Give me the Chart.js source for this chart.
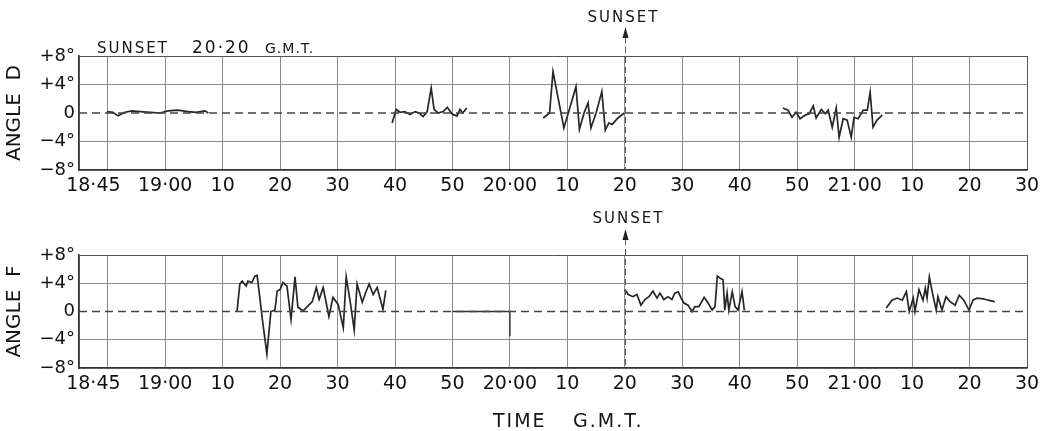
<!DOCTYPE html>
<html lang="en">
<head>
    <meta charset="UTF-8">
    <title>Angle D / Angle F</title>
    <style>
        body { margin: 0; background: #ffffff; }
        #wrap { position: relative; width: 1046px; height: 431px; }
        canvas { position: absolute; left: 0; }
    </style>
</head>
<body>
<div id="wrap">
    <canvas id="chartD" width="1046" height="200" style="top: 0"></canvas>
    <canvas id="chartF" width="1046" height="231" style="top: 200px"></canvas>
</div>

<script src="https://cdn.jsdelivr.net/npm/chart.js"></script>

<script>
    // time in minutes after 18:00 G.M.T.
    const tickTimes = [45, 47.5, 50, 60, 70, 80, 90, 100, 110, 120, 130, 140, 150, 160, 170, 180, 190, 200, 210];
    const tickLabels = ['', '18·45', '', '19·00', '10', '20', '30', '40', '50', '20·00', '10', '20', '30', '40', '50', '21·00', '10', '20', '30'];
    const angleTicks = [-8, -4, 0, 4, 8];
    const angleLabels = ['−8°', '−4°', '0', '+4°', '+8°'];
    const sunsetTime = 140;

    // ANGLE D
    const dTime1 = [49.9, 50.9, 51.8, 53, 54.2, 55.6, 57.4, 59.1, 60.5, 62.2, 64, 65.4, 66.9, 67.5];
    const dAngle1 = [0.2, 0.1, -0.4, 0.1, 0.3, 0.2, 0.1, 0, 0.3, 0.4, 0.2, 0.1, 0.3, 0];
    const dTime2 = [99.5, 100.2, 100.9, 101.7, 102.6, 103.5, 104.2, 104.9, 105.6, 106.3, 106.8, 107.5, 108.4, 109.1, 110, 110.8, 111.3, 111.8, 112.5];
    const dAngle2 = [-1.4, 0.5, 0.1, 0.2, -0.2, 0.2, 0, -0.5, 0.2, 3.5, 0.5, 0, 0.2, 0.8, -0.2, -0.4, 0.5, 0, 0.7];
    const dTime3 = [125.8, 126.9, 127.5, 129.4, 131.5, 132.1, 132.9, 133.6, 134.1, 135, 136, 136.6, 137.2, 137.8, 138.8, 139.9];
    const dAngle3 = [-0.7, 0, 5.8, -2.1, 3.7, -2.3, 0, 1.4, -2.1, 0, 3.0, -2.4, -1.4, -1.6, -0.7, 0];
    const dTime4 = [167.5, 168.4, 169.1, 169.8, 170.5, 171.4, 172.1, 172.8, 173.3, 174.2, 174.9, 175.4, 176.1, 176.8, 177.3, 178, 178.7, 179.4, 179.9, 180.6, 181.5, 182.2, 182.7, 183.2, 183.9, 184.8];
    const dAngle4 = [0.7, 0.4, -0.6, 0.1, -0.8, -0.3, -0.1, 1.0, -0.7, 0.5, -0.1, 0.4, -2.0, 0.7, -3.4, -0.8, -1.0, -3.4, -0.6, -0.8, 0.4, 0.4, 2.9, -2.0, -1.0, -0.3];

    // ANGLE F
    const fTime1 = [72.5, 73, 73.4, 74.1, 74.4, 75.1, 75.6, 76, 76.5, 76.9, 77.7, 78.4, 79.1, 79.5, 80, 80.5, 81.2, 81.9, 82.6, 83.1, 84, 85.6, 86.3, 86.8, 87.5, 88.5, 89.2, 90.1, 91, 91.5, 92.2, 92.9, 93.4, 94.3, 95, 95.5, 96.2, 96.9, 97.9, 98.4];
    const fAngle1 = [0, 3.9, 4.3, 3.6, 4.3, 4.1, 5, 5.1, 1.8, -1.0, -6, 0, 0.2, 2.9, 3.1, 4.1, 3.6, -1.1, 4.9, 0.6, 0.1, 1.4, 3.4, 1.7, 3.4, -0.7, 2, 1, -2.3, 4.9, 1.4, -2.6, 3.9, 1.3, 2.9, 3.9, 2.4, 3.4, 0.3, 3];
    const fTime2 = [140, 140.6, 141.4, 142.1, 142.8, 143.5, 144.2, 144.9, 145.6, 146.1, 146.8, 147.5, 148.2, 148.7, 149.3, 149.8, 150.3, 151, 151.7, 152.2, 152.9, 153.8, 154.5, 155.2, 155.7, 156.1, 156.6, 157.1, 157.4, 157.8, 158.1, 158.7, 159.2, 159.7, 160.4, 160.8];
    const fAngle2 = [3.1, 2.4, 2.1, 2.4, 0.9, 1.7, 2.1, 2.9, 1.9, 2.6, 1.7, 2.1, 1.7, 2.6, 2.8, 1.9, 1.2, 0.9, 0, 0.7, 0.7, 2.0, 1.2, 0.2, 0.7, 5.0, 4.7, 4.5, 0.2, 2.6, 0.2, 2.8, 0.7, 0.2, 2.8, 0.2];
    const fTime3 = [185.5, 186.5, 187.4, 188.3, 189, 189.5, 190.2, 190.5, 191.2, 191.9, 192.3, 192.6, 193, 193.6, 194.2, 194.5, 195.2, 195.9, 196.6, 197.5, 198.2, 199, 199.9, 200.6, 201.3, 202.4, 203.2, 204.4];
    const fAngle3 = [0.5, 1.6, 1.9, 1.6, 2.8, 0, 1.9, 0, 3.1, 1.6, 3.3, 1.9, 4.9, 2.4, 0.2, 2.1, 0.2, 2.1, 1.4, 0.9, 2.3, 1.6, 0.2, 1.6, 1.9, 1.8, 1.6, 1.4];
    const fMarkTime = [110, 120, 120];
    const fMarkAngle = [0, 0, -3.5];

    const FONT = '"DejaVu Sans", "Liberation Sans", sans-serif';

    function pts(times, values) {
        return times.map((t, i) => ({x: t, y: values[i]}));
    }

    function trace(times, values) {
        return {data: pts(times, values), borderColor: '#262626', borderWidth: 1.7, pointRadius: 0, tension: 0};
    }

    function zeroLine() {
        return {
            data: pts([tickTimes[0], tickTimes[tickTimes.length - 1]], [0, 0]),
            borderColor: '#444', borderWidth: 1.3, borderDash: [8, 5], pointRadius: 0
        };
    }

    // sunset marker + free texts
    const notes = {
        id: 'notes',
        afterDatasetsDraw(chart, args, opts) {
            const {ctx, chartArea, scales} = chart;
            const x = Math.round(scales.x.getPixelForValue(sunsetTime)) + 0.5;
            ctx.save();
            ctx.strokeStyle = '#555';
            ctx.lineWidth = 1;
            ctx.setLineDash([6, 4]);
            ctx.beginPath();
            ctx.moveTo(x, opts.arrowTip + 10);
            ctx.lineTo(x, chartArea.bottom);
            ctx.stroke();
            ctx.setLineDash([]);
            ctx.fillStyle = '#222';
            ctx.beginPath();
            ctx.moveTo(x, opts.arrowTip);
            ctx.lineTo(x - 3, opts.arrowTip + 11);
            ctx.lineTo(x + 3, opts.arrowTip + 11);
            ctx.closePath();
            ctx.fill();

            ctx.fillStyle = '#151515';
            ctx.textBaseline = 'alphabetic';
            ctx.font = '15px ' + FONT;
            ctx.letterSpacing = '2px';
            ctx.textAlign = 'center';
            ctx.fillText('SUNSET', x + opts.sunsetDx, opts.sunsetY);

            ctx.textAlign = 'left';
            for (const t of opts.texts || []) {
                ctx.font = t.size + 'px ' + FONT;
                ctx.letterSpacing = t.spacing + 'px';
                ctx.fillText(t.text, chartArea.left + t.dx, t.y);
            }
            ctx.letterSpacing = '0px';
            ctx.restore();
        }
    };

    function makeChart(id, datasets, cfg) {
        return new Chart(document.getElementById(id), {
            type: 'line',
            data: {datasets},
            plugins: [notes],
            options: {
                responsive: false,
                animation: false,
                events: [],
                layout: {padding: {top: cfg.top, right: 19, left: 0, bottom: 0}},
                plugins: {
                    legend: {display: false},
                    tooltip: {enabled: false},
                    notes: cfg.notes
                },
                scales: {
                    x: {
                        type: 'linear',
                        min: tickTimes[0],
                        max: tickTimes[tickTimes.length - 1],
                        afterBuildTicks: s => { s.ticks = tickTimes.map(v => ({value: v})); },
                        afterFit: s => { s.height = cfg.xHeight; },
                        ticks: {
                            autoSkip: false,
                            maxRotation: 0,
                            padding: cfg.tickPad,
                            color: '#111',
                            font: {family: FONT, size: 19},
                            callback: v => tickLabels[tickTimes.indexOf(v)]
                        },
                        grid: {
                            drawTicks: false,
                            lineWidth: 1,
                            color: c => (c.tick && c.tick.value === 47.5) ? 'rgba(0,0,0,0)'
                                : (c.tick && c.tick.value === 210 ? '#555' : '#8a8a8a')
                        },
                        border: {color: '#333', width: 1.6}
                    },
                    y: {
                        min: -8,
                        max: 8,
                        afterBuildTicks: s => { s.ticks = angleTicks.map(v => ({value: v})); },
                        afterFit: s => { s.width = 79; },
                        ticks: {
                            padding: 4,
                            color: '#111',
                            font: {family: FONT, size: 18},
                            callback: v => angleLabels[angleTicks.indexOf(v)]
                        },
                        grid: {
                            drawTicks: false,
                            lineWidth: 1,
                            color: c => (c.tick && c.tick.value === 0) ? 'rgba(0,0,0,0)'
                                : (c.tick && c.tick.value === 8 ? '#555' : '#8a8a8a')
                        },
                        border: {color: '#333', width: 1.6},
                        title: {
                            display: true,
                            text: cfg.title,
                            color: '#111',
                            font: {family: FONT, size: 20},
                            padding: {top: 3, bottom: 0}
                        }
                    }
                }
            }
        });
    }

    makeChart('chartD', [
        zeroLine(),
        trace(dTime1, dAngle1),
        trace(dTime2, dAngle2),
        trace(dTime3, dAngle3),
        trace(dTime4, dAngle4)
    ], {
        title: 'ANGLE  D', top: 56, xHeight: 30, tickPad: 5,
        notes: {
            arrowTip: 27, sunsetY: 22, sunsetDx: -2,
            texts: [
                {text: 'SUNSET', dx: 18, y: 53, size: 15, spacing: 2},
                {text: '20·20', dx: 113, y: 53, size: 17, spacing: 2},
                {text: 'G.M.T.', dx: 186, y: 53, size: 14, spacing: 1}
            ]
        }
    });

    makeChart('chartF', [
        zeroLine(),
        {data: pts(fMarkTime, fMarkAngle), borderColor: '#333', borderWidth: 1.4, pointRadius: 0},
        trace(fTime1, fAngle1),
        trace(fTime2, fAngle2),
        trace(fTime3, fAngle3)
    ], {
        title: 'ANGLE  F', top: 55, xHeight: 63, tickPad: 5,
        notes: {
            arrowTip: 29, sunsetY: 23, sunsetDx: 3,
            texts: [
                {text: 'TIME', dx: 414, y: 227, size: 19, spacing: 2},
                {text: 'G.M.T.', dx: 494, y: 227, size: 19, spacing: 2}
            ]
        }
    });
</script>
</body>
</html>
